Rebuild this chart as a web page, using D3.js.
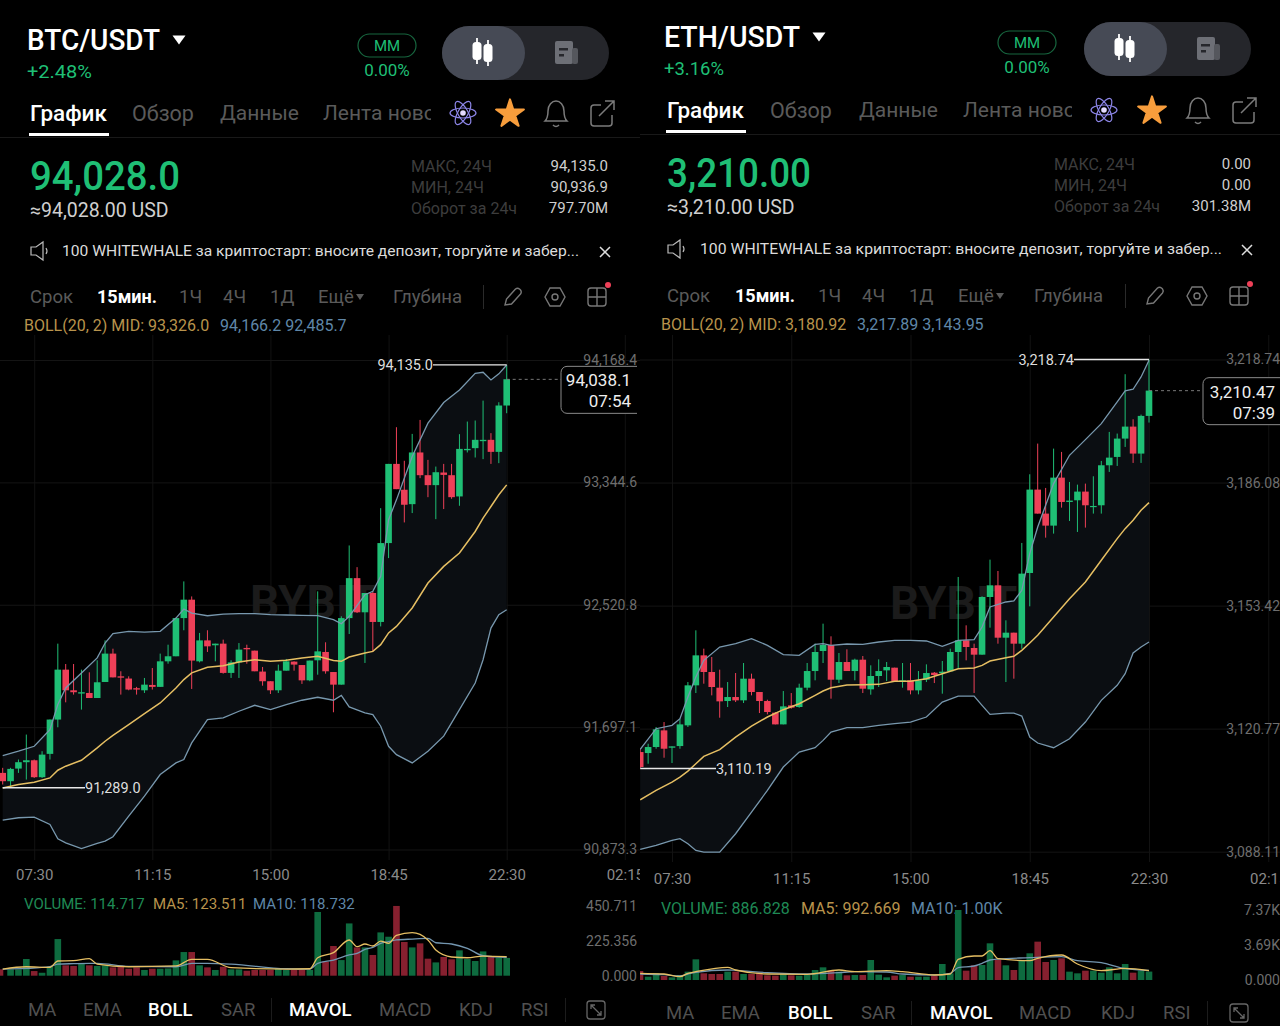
<!DOCTYPE html>
<html>
<head>
<meta charset="utf-8">
<script src="https://cdn.jsdelivr.net/npm/d3@7"></script>
<style>
	html, body { margin: 0; padding: 0; background: #000; }
	svg { display: block; }
	text { font-family: Roboto, "Noto Sans", sans-serif; }
</style>
</head>
<body>
<div id="chart"></div>
<script>
	// --- BTC/USDT, 15 min candles, 06:30 to 22:30
	var btcOpen = [91389,91333,91418,91461,91474,91360,91517,91748,92084,91945,91923,91927,91893,92001,92192,92039,92024,91959,91945,91981,91968,92140,92174,92431,92555,92140,92281,92248,92259,92062,92133,92230,92212,92071,92006,91945,92077,92138,92115,92012,92147,92203,92068,91983,92431,92700,92470,92600,92405,92936,93469,93295,93198,93546,93393,93326,93411,93393,93250,93561,93575,93622,93631,93550,93862];
	var btcClose = [91333,91416,91461,91474,91360,91512,91748,92084,91945,91932,91932,91893,91999,92192,92032,92030,91950,91950,91983,91968,92140,92174,92431,92555,92145,92281,92241,92259,92062,92133,92219,92221,92073,92006,91945,92077,92140,92118,92012,92145,92207,92073,91983,92431,92700,92470,92600,92405,92936,93469,93299,93194,93546,93393,93326,93413,93395,93245,93570,93570,93631,93631,93550,93862,94039];
	var btcHigh = [91423,91423,91479,91647,91479,91535,91748,92259,92122,92122,92084,92066,92147,92281,92225,92073,92039,91968,92028,92095,92192,92252,92431,92678,92577,92331,92349,92259,92286,92147,92263,92252,92212,92102,92006,92118,92156,92140,92115,92145,92611,92268,92068,92443,92920,92774,92600,92611,93171,93469,93716,93490,93671,93765,93496,93451,93469,93469,93669,93754,93761,93895,93676,93884,94135];
	var btcLow = [91311,91289,91389,91344,91355,91355,91479,91696,91864,91916,91815,91893,91893,92001,92032,91916,91945,91916,91927,91950,91968,92124,92174,92349,91954,92133,92203,92140,92057,92028,92028,92124,92073,91976,91920,91927,92077,92077,91988,92006,92050,92057,91797,91983,92324,92465,92129,92207,92375,92835,93299,93075,93138,93373,93245,93097,93165,93234,93187,93546,93512,93501,93469,93474,93810];

	var btcBollIdx = [0,2,4,6,7,8,10,12,13,14,16,18,20,22,23,24,26,28,30,32,34,36,38,40,42,43,44,46,47,48,49,50,52,54,56,58,60,61,62,63,64];
	var btcUpper = [91506,91535,91568,91680,91849,91961,92062,92163,92263,92326,92342,92337,92342,92431,92492,92465,92447,92458,92461,92461,92454,92452,92449,92447,92420,92393,92443,92588,92611,92712,93093,93227,93519,93743,93882,93967,94079,94086,94034,94075,94135];
	var btcMid = [91288,91311,91326,91355,91407,91434,91474,91557,91602,91642,91714,91788,91860,91961,92017,92062,92100,92111,92136,92151,92140,92147,92163,92174,92145,92140,92169,92196,92207,92252,92331,92375,92499,92667,92779,92869,93014,93104,93182,93261,93328];
	var btcLower = [91071,91087,91091,91042,90945,90918,90880,90914,90930,90959,91098,91232,91378,91456,91479,91591,91748,91759,91804,91844,91815,91849,91878,91898,91878,91911,91833,91793,91781,91703,91568,91512,91456,91535,91636,91815,91994,92151,92364,92454,92487];

	var btcVol = [41,41,41,108,30,19,58,237,67,63,80,67,63,67,54,63,45,54,37,45,45,47,99,153,153,67,54,37,58,41,41,32,37,37,37,45,37,37,37,37,412,91,192,101,338,183,183,134,280,252,451,218,183,209,110,86,121,106,164,108,95,157,123,116,115];
	var btcMaIdx = [0,3,6,7,9,11,12,16,22,24,26,29,36,39,40,42,44,45,46,47,48,49,50,52,54,55,57,59,61,64];
	var btcMa5 = [43,58,54,95,97,110,75,58,63,106,106,52,43,45,116,149,231,188,205,192,224,209,261,278,231,166,121,116,127,123.5];
	var btcMa10 = [43,47,58,75,78,80,80,60,58,80,80,75,45,43,80,101,134,144,170,183,209,220,231,237,241,213,205,177,129,118.7];

	var btcPriceTicks = [94168.4,93344.6,92520.8,91697.1,90873.3];
	var btcVolTicks = [0,225.356,450.711];
	var btcVolLabels = ["0.000","225.356","450.711"];

	// --- ETH/USDT
	var ethOpen = [3114.56,3114.29,3115.89,3120.31,3115.71,3116.15,3121.64,3132.26,3140.22,3135.80,3131.64,3128.10,3129.16,3128.28,3134.03,3130.49,3128.10,3125.00,3121.90,3126.95,3126.51,3131.64,3136.06,3141.37,3142.97,3133.76,3138.45,3136.06,3139.07,3131.20,3134.74,3136.24,3136.95,3133.23,3133.59,3130.93,3133.76,3135.62,3135.53,3135.98,3141.11,3144.21,3142.17,3140.40,3155.71,3158.81,3144.91,3146.24,3143.32,3162.08,3184.21,3177.84,3174.65,3187.39,3180.93,3181.38,3183.68,3179.61,3180.05,3190.67,3192.88,3197.75,3200.93,3193.77,3203.77];
	var ethClose = [3110.58,3115.89,3120.58,3115.44,3116.06,3121.90,3132.26,3140.22,3135.80,3131.82,3128.01,3129.16,3128.28,3134.03,3130.49,3128.10,3125.18,3121.90,3126.68,3126.33,3131.64,3136.06,3141.11,3142.97,3133.76,3138.45,3136.06,3139.07,3131.37,3134.74,3136.06,3137.13,3133.32,3133.59,3130.93,3133.59,3135.53,3135.00,3135.89,3141.11,3144.21,3142.44,3140.40,3155.71,3158.81,3144.91,3146.24,3143.32,3161.91,3184.21,3177.84,3174.65,3187.39,3180.93,3181.29,3183.68,3180.05,3179.87,3190.67,3192.70,3197.75,3200.93,3193.77,3203.77,3210.49];
	var ethHigh = [3115.44,3116.77,3121.20,3122.52,3116.06,3123.41,3133.14,3146.86,3141.99,3139.78,3136.42,3133.14,3135.53,3138.19,3135.36,3130.49,3128.45,3125.18,3130.75,3130.22,3132.70,3138.19,3143.32,3148.63,3145.27,3140.84,3141.82,3139.34,3140.05,3137.57,3139.16,3138.45,3136.95,3138.19,3138.19,3136.06,3137.83,3135.80,3138.72,3141.99,3161.02,3148.19,3143.32,3155.89,3165.62,3162.61,3149.52,3146.24,3170.05,3188.28,3196.42,3184.65,3195.09,3194.21,3186.24,3185.53,3185.80,3187.75,3191.82,3199.52,3199.08,3214.83,3202.88,3204.12,3218.74];
	var ethLow = [3110.19,3111.46,3115.44,3113.05,3111.64,3115.44,3121.20,3130.22,3132.70,3129.60,3123.67,3126.51,3127.83,3127.57,3129.60,3124.91,3124.56,3121.90,3121.90,3126.06,3126.33,3130.93,3133.59,3138.19,3128.72,3132.87,3136.06,3133.59,3130.22,3129.78,3131.82,3133.41,3133.14,3131.64,3129.87,3129.87,3133.14,3132.87,3130.05,3135.98,3136.68,3138.90,3130.22,3140.40,3147.57,3143.32,3133.14,3134.03,3141.99,3153.23,3177.84,3171.46,3172.53,3179.43,3175.89,3172.97,3174.12,3177.84,3177.84,3188.90,3190.49,3195.53,3191.29,3191.29,3202.00];

	var ethBollIdx = [0,2,4,5,6,7,8,10,12,14,16,18,20,22,23,24,26,28,30,32,34,36,38,40,42,43,44,46,47,48,49,50,52,54,56,58,60,61,62,63,64];
	var ethUpper = [3115.27,3120.75,3121.64,3123.41,3129.16,3134.47,3138.90,3142.44,3143.32,3144.65,3142.88,3140.40,3140.22,3143.14,3143.32,3142.88,3143.23,3143.14,3143.76,3144.21,3144.21,3144.03,3142.61,3144.21,3144.38,3147.75,3153.06,3154.38,3154.65,3157.48,3167.22,3174.29,3185.80,3193.32,3197.48,3201.73,3207.48,3210.40,3210.85,3214.12,3218.55];
	var ethMid = [3101.90,3104.38,3106.59,3107.92,3109.51,3111.46,3113.41,3115.18,3118.54,3121.46,3123.85,3125.80,3127.39,3129.60,3130.75,3131.64,3132.35,3132.43,3132.52,3133.32,3133.32,3134.03,3135.36,3136.68,3136.86,3137.57,3138.72,3139.60,3139.96,3141.55,3143.50,3145.53,3150.40,3155.27,3159.69,3165.45,3171.20,3173.85,3176.07,3178.72,3180.76];
	var ethLower = [3088.72,3089.78,3091.10,3091.55,3090.22,3088.45,3088.01,3088.01,3092.88,3098.63,3104.38,3110.58,3114.56,3115.71,3117.66,3119.87,3121.02,3121.02,3121.64,3122.08,3122.52,3123.85,3127.83,3129.42,3129.42,3126.95,3124.56,3124.91,3124.91,3124.12,3118.54,3116.95,3115.71,3118.10,3122.52,3128.28,3132.26,3135.36,3140.84,3142.44,3143.76];

	var ethVol = [948,351,702,421,281,527,878,2176,702,632,632,878,878,632,632,772,491,456,702,491,456,527,1053,1334,983,878,491,527,527,2106,562,281,456,527,351,351,351,421,1685,702,7371,983,1544,1580,3861,2106,1544,1053,2106,2808,4037,1895,2106,2282,878,702,983,983,772,1334,702,1685,772,983,887];
	var ethMaIdx = [0,3,5,6,7,11,12,16,21,25,27,31,33,37,39,40,42,43,44,45,49,50,53,55,58,61,64];
	var ethMa5 = [702,632,351,702,878,1334,1053,632,597,1053,878,983,878,527,632,2176,2527,2527,3089,2246,2036,2282,2633,1685,983,1229,992.7];
	var ethMa10 = [632,562,421,632,807,1053,1018,772,632,772,878,842,632,527,702,1299,1474,1755,2106,2211,2352,2387,2457,2036,1825,1193,1000];

	var ethPriceTicks = [3218.74,3186.08,3153.42,3120.77,3088.11];
	var ethVolTicks = [0,3690,7370];
	var ethVolLabels = ["0.000","3.69K","7.37K"];

	var timeIdx = [4,19,34,49,64,79];
	var timeLabels = ["07:30","11:15","15:00","18:45","22:30","02:15"];

	var green = "#1fbf75", red = "#ee4058";
	var greenDim = "#0e6b3f", redDim = "#86202f";
	var grey = "#5a5a5a", gold = "#b8934c", steel = "#5f87a8";

	var svg = d3.select("#chart").append("svg")
		.attr("width", 1280)
		.attr("height", 1026)
		.style("background", "#000");

	var defs = svg.append("defs");

	function addClip(id, x, y, w, h){
		defs.append("clipPath").attr("id", id)
			.append("rect").attr("x", x).attr("y", y).attr("width", w).attr("height", h);
	}

	function txt(g, x, y, s, size, fill, anchor, weight){
		return g.append("text")
			.attr("x", x)
			.attr("y", y)
			.attr("dy", "0.35em")
			.attr("font-size", size)
			.attr("fill", fill)
			.attr("text-anchor", anchor || "start")
			.attr("font-weight", weight || 400)
			.text(s);
	}

	function styleAxis(a, size, fill){
		a.select(".domain").remove();
		a.selectAll("line").remove();
		a.selectAll("text")
			.attr("font-size", size)
			.attr("fill", fill)
			.attr("font-family", "Roboto, sans-serif");
	}

	// small ui icons
	function iconCandles(g, cx, cy){
		[-6, 5].forEach(function(dx, i){
			var off = i ? 1 : -1;
			g.append("line").attr("x1", cx+dx).attr("x2", cx+dx).attr("y1", cy-13+off).attr("y2", cy+13+off)
				.attr("stroke", "#fff").attr("stroke-width", 1.8);
			g.append("rect").attr("x", cx+dx-4.5).attr("y", cy-9+off).attr("width", 9).attr("height", 18).attr("rx", 3.5).attr("fill", "#fff");
		});
	}
	function iconDoc(g, cx, cy){
		g.append("rect").attr("x", cx-11).attr("y", cy-11).attr("width", 18).attr("height", 23).attr("rx", 2).attr("fill", "#6d6f76");
		g.append("rect").attr("x", cx+6).attr("y", cy-4).attr("width", 6).attr("height", 16).attr("rx", 2).attr("fill", "#55575d");
		g.append("rect").attr("x", cx-7).attr("y", cy-4).attr("width", 9).attr("height", 2.5).attr("fill", "#26272c");
		g.append("rect").attr("x", cx-7).attr("y", cy+2).attr("width", 5).attr("height", 2.5).attr("fill", "#26272c");
	}
	function iconAtom(g, cx, cy){
		[0, 60, 120].forEach(function(a){
			g.append("ellipse").attr("cx", cx).attr("cy", cy).attr("rx", 13).attr("ry", 5)
				.attr("fill", "none").attr("stroke", "#8d86e8").attr("stroke-width", 1.2)
				.attr("transform", "rotate(" + a + "," + cx + "," + cy + ")");
		});
		g.append("circle").attr("cx", cx).attr("cy", cy).attr("r", 2.8).attr("fill", "#e4dcff");
	}
	function iconStar(g, cx, cy){
		g.append("path")
			.attr("d", d3.symbol().type(d3.symbolStar).size(240)())
			.attr("transform", "translate(" + cx + "," + (cy+1) + ")")
			.attr("fill", "#f79d3c").attr("stroke", "#f79d3c").attr("stroke-width", 2).attr("stroke-linejoin", "round");
	}
	function iconBell(g, cx, cy){
		g.append("path")
			.attr("d", "M" + (cx-11) + "," + (cy+8) + "c3,-3 3,-6 3,-10c0,-6 4,-10 8,-10c4,0 8,4 8,10c0,4 0,7 3,10z")
			.attr("fill", "none").attr("stroke", "#7b7b7b").attr("stroke-width", 1.5);
		g.append("path").attr("d", "M" + (cx-3) + "," + (cy+12) + "q3,3 6,0")
			.attr("fill", "none").attr("stroke", "#7b7b7b").attr("stroke-width", 1.5);
	}
	function iconShare(g, cx, cy){
		g.append("path")
			.attr("d", "M" + (cx-1) + "," + (cy-8) + "h-7q-3,0 -3,3v15q0,3 3,3h15q3,0 3,-3v-8")
			.attr("fill", "none").attr("stroke", "#7b7b7b").attr("stroke-width", 1.5);
		g.append("path").attr("d", "M" + (cx-3) + "," + (cy+3) + "L" + (cx+12) + "," + (cy-12) + "M" + (cx+3) + "," + (cy-12) + "h9v9")
			.attr("fill", "none").attr("stroke", "#7b7b7b").attr("stroke-width", 1.5);
	}
	function iconSpeaker(g, cx, cy){
		g.append("path")
			.attr("d", "M" + (cx-8) + "," + (cy-4) + "h5l7,-5v18l-7,-5h-5z")
			.attr("fill", "none").attr("stroke", "#bbb").attr("stroke-width", 1.2);
		g.append("path").attr("d", "M" + (cx+7) + "," + (cy-3) + "q2,3 0,6")
			.attr("fill", "none").attr("stroke", "#bbb").attr("stroke-width", 1.2);
	}
	function iconClose(g, cx, cy){
		g.append("path").attr("d", "M" + (cx-5) + "," + (cy-5) + "l10,10M" + (cx+5) + "," + (cy-5) + "l-10,10")
			.attr("stroke", "#ddd").attr("stroke-width", 1.5);
	}
	function iconPencil(g, cx, cy){
		g.append("path")
			.attr("d", "M" + (cx-8) + "," + (cy+8) + "l1.5,-6l9,-10q2,-1.5 4,0l1,1q1.5,2 0,4l-9,10z")
			.attr("fill", "none").attr("stroke", "#777").attr("stroke-width", 1.4);
	}
	function iconHex(g, cx, cy){
		g.append("path")
			.attr("d", "M" + (cx-10) + "," + cy + "l5,-9h10l5,9l-5,9h-10z")
			.attr("fill", "none").attr("stroke", "#777").attr("stroke-width", 1.4);
		g.append("circle").attr("cx", cx).attr("cy", cy).attr("r", 3).attr("fill", "none").attr("stroke", "#777").attr("stroke-width", 1.4);
	}
	function iconGrid(g, cx, cy){
		g.append("rect").attr("x", cx-9).attr("y", cy-9).attr("width", 18).attr("height", 18).attr("rx", 3)
			.attr("fill", "none").attr("stroke", "#777").attr("stroke-width", 1.4);
		g.append("path").attr("d", "M" + cx + "," + (cy-9) + "v18M" + (cx-9) + "," + cy + "h18")
			.attr("stroke", "#777").attr("stroke-width", 1.4);
		g.append("circle").attr("cx", cx+11).attr("cy", cy-12).attr("r", 3).attr("fill", red);
	}
	function iconExpand(g, cx, cy){
		g.append("rect").attr("x", cx-9).attr("y", cy-9).attr("width", 18).attr("height", 18).attr("rx", 3)
			.attr("fill", "none").attr("stroke", "#666").attr("stroke-width", 1.3);
		g.append("path").attr("d", "M" + (cx-5) + "," + (cy-1) + "v-4h4M" + (cx-5) + "," + (cy-5) + "l10,10M" + (cx+1) + "," + (cy+5) + "h4v-4")
			.attr("fill", "none").attr("stroke", "#666").attr("stroke-width", 1.3);
	}
	function tri(g, cx, cy, w, h, fill){
		g.append("path").attr("d", "M" + (cx-w/2) + "," + (cy-h/2) + "h" + w + "l" + (-w/2) + "," + h + "z").attr("fill", fill);
	}

	// header + toolbar of one screenshot
	function drawHeader(p){
		var g = svg.append("g");
		txt(g, p.titleX, p.titleY, p.title, 29, "#fff", "start", 500).attr("textLength", p.titleW).attr("lengthAdjust", "spacingAndGlyphs");
		tri(g, p.titleX + p.titleW + 19, p.titleY, 13, 9, "#fff");
		txt(g, p.titleX, p.titleY + 31, p.change, 19, green).attr("textLength", p.changeW).attr("lengthAdjust", "spacingAndGlyphs");

		g.append("rect").attr("x", p.mmX).attr("y", p.titleY - 6).attr("width", 58).attr("height", 23).attr("rx", 11.5)
			.attr("fill", "none").attr("stroke", "#17663f").attr("stroke-width", 1.2);
		txt(g, p.mmX + 29, p.titleY + 6, "MM", 15, green, "middle");
		txt(g, p.mmX + 29, p.titleY + 30, "0.00%", 17, green, "middle");

		g.append("rect").attr("x", p.togX).attr("y", p.togY).attr("width", 167).attr("height", 54).attr("rx", 27).attr("fill", "#25262b");
		g.append("rect").attr("x", p.togX).attr("y", p.togY).attr("width", 83).attr("height", 54).attr("rx", 27).attr("fill", "#464a55");
		iconCandles(g, p.togX + 41, p.togY + 26);
		iconDoc(g, p.togX + 124, p.togY + 26);

		// tabs
		addClip("tab" + p.id, p.x0, p.tabY - 20, p.tabClip - p.x0, 40);
		txt(g, p.tabX[0], p.tabY, "График", 22.5, "#fff", "start", 500);
		txt(g, p.tabX[1], p.tabY, "Обзор", 21.5, grey);
		txt(g, p.tabX[2], p.tabY, "Данные", 21, grey);
		txt(g, p.tabX[3], p.tabY, "Лента новостей", 21, grey).attr("clip-path", "url(#tab" + p.id + ")");
		g.append("rect").attr("x", p.tabX[0] - 1).attr("y", p.tabY + 20).attr("width", 80).attr("height", 3).attr("fill", "#fff");
		g.append("rect").attr("x", p.x0).attr("y", p.tabY + 24).attr("width", 640).attr("height", 1).attr("fill", "#191919");
		iconAtom(g, p.iconX[0], p.tabY);
		iconStar(g, p.iconX[1], p.tabY);
		iconBell(g, p.iconX[2], p.tabY);
		iconShare(g, p.iconX[3], p.tabY);

		// price block
		txt(g, p.tabX[0], p.priceY, p.price, 40, green, "start", 500).attr("textLength", p.priceW).attr("lengthAdjust", "spacingAndGlyphs");
		txt(g, p.tabX[0], p.priceY + 34, p.usd, 19.5, "#d0d0d0");
		p.stats.forEach(function(s, i){
			txt(g, p.statX, p.statY + i * 21, s[0], 16, "#3d3d3d");
			txt(g, p.statR, p.statY + i * 21, s[1], 15, "#cfcfcf", "end");
		});

		// announcement
		iconSpeaker(g, p.tabX[0] + 9, p.annY);
		txt(g, p.annX, p.annY, "100 WHITEWHALE за криптостарт: вносите депозит, торгуйте и забер...", 15.5, "#dcdcdc")
			.attr("textLength", p.annW).attr("lengthAdjust", "spacingAndGlyphs");
		iconClose(g, p.iconX[3] + 3, p.annY + 1);

		// period bar
		var bar = ["Срок","15мин.","1Ч","4Ч","1Д","Ещё","Глубина"];
		bar.forEach(function(b, i){
			txt(g, p.barX[i], p.barY, b, i == 1 ? 18 : 18.5, i == 1 ? "#fff" : grey, "start", i == 1 ? 700 : 400);
		});
		tri(g, p.barX[5] + 42, p.barY, 8, 6, grey);
		g.append("rect").attr("x", p.barSep).attr("y", p.barY - 12).attr("width", 1).attr("height", 24).attr("fill", "#2a2a2a");
		iconPencil(g, p.barSep + 30, p.barY);
		iconHex(g, p.barSep + 72, p.barY);
		iconGrid(g, p.barSep + 114, p.barY);

		// boll legend
		txt(g, p.legX, p.legY, p.bollLabel, 16, gold);
		txt(g, p.legX2, p.legY, p.bollBands, 16, steel);

		// bottom indicator tabs
		var tabs = ["MA","EMA","BOLL","SAR","MAVOL","MACD","KDJ","RSI"];
		tabs.forEach(function(t, i){
			var on = (t == "BOLL" || t == "MAVOL");
			txt(g, p.btmX[i], p.btmY, t, 18.5, on ? "#fff" : "#505050", "start", on ? 500 : 400);
		});
		g.append("rect").attr("x", p.btmSep[0]).attr("y", p.btmY - 12).attr("width", 1).attr("height", 24).attr("fill", "#1c1c1c");
		g.append("rect").attr("x", p.btmSep[1]).attr("y", p.btmY - 12).attr("width", 1).attr("height", 24).attr("fill", "#1c1c1c");
		iconExpand(g, p.btmIcon, p.btmY);
	}

	// candles + bollinger + volume of one screenshot
	function drawChart(p, d){
		var n = d.open.length;
		addClip("plot" + p.id, p.x0, 330, 640, 560);

		var x = d3.scaleLinear().domain([0, n - 1]).range(p.xRange);
		var y = d3.scaleLinear().domain([d.ticks[0], d.ticks[4]]).range(p.yRange);
		var yVol = d3.scaleLinear().domain([0, d.volTicks[2]]).range(p.volRange);

		var g = svg.append("g");
		var plot = g.append("g").attr("clip-path", "url(#plot" + p.id + ")");

		// grid
		plot.append("g")
			.attr("transform", "translate(0," + p.gridBottom + ")")
			.call(d3.axisBottom(x).tickValues(timeIdx).tickSize(-(p.gridBottom - 335)).tickFormat(""))
			.call(function(a){
				a.select(".domain").remove();
				a.selectAll("line").attr("stroke", "#121212");
			});
		plot.append("g")
			.attr("transform", "translate(" + (p.x0 + 640) + ",0)")
			.call(d3.axisLeft(y).tickValues(d.ticks).tickSize(640).tickFormat(""))
			.call(function(a){
				a.select(".domain").remove();
				a.selectAll("line").attr("stroke", "#141414");
			});

		// watermark
		txt(plot, p.markX, p.markY, "BYBIT", 46, "#1b1b1b", "start", 700);

		// band
		var band = d3.area()
			.x(function(i){ return x(d.bollIdx[i]); })
			.y0(function(i){ return y(d.lower[i]); })
			.y1(function(i){ return y(d.upper[i]); });
		plot.append("path")
			.attr("d", band(d3.range(d.bollIdx.length)))
			.attr("fill", "#0b0e12");

		// candles
		var up = function(i){ return d.close[i] >= d.open[i]; };
		var candles = plot.append("g").selectAll("g").data(d3.range(n)).enter().append("g");
		candles.append("line")
			.attr("x1", function(i){ return x(i); })
			.attr("x2", function(i){ return x(i); })
			.attr("y1", function(i){ return y(d.high[i]); })
			.attr("y2", function(i){ return y(d.low[i]); })
			.attr("stroke", function(i){ return up(i) ? green : red; })
			.attr("stroke-width", 1);
		candles.append("rect")
			.attr("x", function(i){ return x(i) - 3.3; })
			.attr("width", 6.6)
			.attr("y", function(i){ return y(Math.max(d.open[i], d.close[i])); })
			.attr("height", function(i){ return Math.max(1.2, Math.abs(y(d.open[i]) - y(d.close[i]))); })
			.attr("fill", function(i){ return up(i) ? green : red; });

		// boll lines
		function bollLine(vals, color, w){
			var line = d3.line()
				.x(function(i){ return x(d.bollIdx[i]); })
				.y(function(i){ return y(vals[i]); });
			plot.append("path")
				.attr("d", line(d3.range(vals.length)))
				.attr("fill", "none")
				.attr("stroke", color)
				.attr("stroke-width", w);
		}
		bollLine(d.upper, "#7898ae", 1.3);
		bollLine(d.lower, "#7898ae", 1.3);
		bollLine(d.mid, "#e6bf63", 1.5);

		// high / low markers
		plot.append("line")
			.attr("x1", p.hiLabelX).attr("x2", x(n - 1))
			.attr("y1", y(d.hi)).attr("y2", y(d.hi))
			.attr("stroke", "#e8e8e8").attr("stroke-width", 1.3);
		txt(plot, p.hiLabelX, y(d.hi), d.hiLabel, 14.5, "#dedede", "end");
		plot.append("line")
			.attr("x1", x(p.loIdx)).attr("x2", p.loLabelX)
			.attr("y1", y(d.lo)).attr("y2", y(d.lo))
			.attr("stroke", "#e8e8e8").attr("stroke-width", 1.3);
		txt(plot, p.loLabelX, y(d.lo), d.loLabel, 14.5, "#dedede");

		// price axis labels
		g.append("g")
			.attr("transform", "translate(" + p.labelR + ",0)")
			.call(d3.axisLeft(y).tickValues(d.ticks).tickSize(0).tickPadding(0).tickFormat(function(v){ return d3.format(",." + d.dec + "f")(v); }))
			.call(function(a){ styleAxis(a, 14, "#6e6e6e"); });

		// time axis
		plot.append("g")
			.attr("transform", "translate(0," + (p.timeY - 5) + ")")
			.call(d3.axisBottom(x).tickValues(timeIdx).tickSize(0).tickPadding(0).tickFormat(function(v, i){ return timeLabels[i]; }))
			.call(function(a){ styleAxis(a, 15, "#8a8a8a"); });

		// last price tag
		plot.append("line")
			.attr("x1", x(n - 1)).attr("x2", p.tagX)
			.attr("y1", y(d.last)).attr("y2", y(d.last))
			.attr("stroke", "#777").attr("stroke-dasharray", "3,3");
		g.append("rect").attr("x", p.tagX).attr("y", y(d.last) - 13).attr("width", 90).attr("height", 47).attr("rx", 6)
			.attr("fill", "#000").attr("stroke", "#8a8a8a").attr("clip-path", "url(#tag" + p.id + ")");
		addClip("tag" + p.id, p.x0, 330, p.tagClip - p.x0, 120);
		txt(g, p.tagR, y(d.last) + 1, d.lastLabel, 17, "#eee", "end");
		txt(g, p.tagR, y(d.last) + 22, d.countdown, 17, "#eee", "end");

		// volume legend
		txt(g, p.legX, p.volLegY, d.volLabel, p.volLegSize, "#1f8a55");
		txt(g, p.volMa5X, p.volLegY, d.ma5Label, p.volLegSize, gold);
		txt(g, p.volMa10X, p.volLegY, d.ma10Label, p.volLegSize, steel);

		// volume bars
		g.append("g").selectAll("rect").data(d3.range(n)).enter().append("rect")
			.attr("x", function(i){ return Math.max(p.x0, x(i) - 3.3); })
			.attr("width", function(i){ return x(i) - 3.3 < p.x0 ? 3.3 : 6.6; })
			.attr("y", function(i){ return yVol(d.vol[i]); })
			.attr("height", function(i){ return yVol(0) - yVol(d.vol[i]); })
			.attr("fill", function(i){ return up(i) ? greenDim : redDim; });

		function volLine(vals, color){
			var line = d3.line()
				.curve(d3.curveMonotoneX)
				.x(function(i){ return x(d.maIdx[i]); })
				.y(function(i){ return yVol(vals[i]); });
			g.append("path")
				.attr("d", line(d3.range(vals.length)))
				.attr("fill", "none")
				.attr("stroke", color)
				.attr("stroke-width", 1.3);
		}
		volLine(d.ma10, "#7396b0");
		volLine(d.ma5, "#e6bf63");

		// volume axis labels
		g.append("g")
			.attr("transform", "translate(" + p.labelR + ",0)")
			.call(d3.axisLeft(yVol).tickValues(d.volTicks).tickSize(0).tickPadding(0).tickFormat(function(v, i){ return d.volLabels[i]; }))
			.call(function(a){ styleAxis(a, 14, "#6e6e6e"); });
	}

	var leftPanel = {
		id: "L", x0: 0,
		title: "BTC/USDT", titleX: 27, titleY: 40, titleW: 133, change: "+2.48%", changeW: 65,
		mmX: 358, togX: 442, togY: 26,
		tabY: 113, tabX: [30,132,220,323], tabClip: 431, iconX: [463,510,556,602],
		priceY: 176, priceW: 150, price: "94,028.0", usd: "≈94,028.00 USD",
		statX: 411, statR: 608, statY: 166,
		stats: [["МАКС, 24Ч","94,135.0"],["МИН, 24Ч","90,936.9"],["Оборот за 24ч","797.70M"]],
		annY: 251, annX: 62, annW: 517,
		barY: 297, barX: [30,97,179,223,270,318,393], barSep: 483,
		legX: 24, legY: 325, legX2: 220,
		bollLabel: "BOLL(20, 2) MID: 93,326.0", bollBands: "94,166.2 92,485.7",
		btmY: 1010, btmX: [28,83,148,221,289,379,459,521], btmSep: [271,565], btmIcon: 596,
		xRange: [2.7,506.7], yRange: [360,849.5], volRange: [975.7,906],
		gridBottom: 860, markX: 250, markY: 602,
		hiLabelX: 433, loLabelX: 85, loIdx: 0,
		labelR: 637, timeY: 874, tagX: 561, tagR: 631, tagClip: 637,
		volLegY: 904, volMa5X: 153, volMa10X: 253, volLegSize: 15
	};

	var rightPanel = {
		id: "R", x0: 640,
		title: "ETH/USDT", titleX: 664, titleY: 37, titleW: 136, change: "+3.16%", changeW: 60,
		mmX: 998, togX: 1084, togY: 22,
		tabY: 110, tabX: [667,770,859,963], tabClip: 1072, iconX: [1104,1152,1198,1244],
		priceY: 173, priceW: 144, price: "3,210.00", usd: "≈3,210.00 USD",
		statX: 1054, statR: 1251, statY: 164,
		stats: [["МАКС, 24Ч","0.00"],["МИН, 24Ч","0.00"],["Оборот за 24ч","301.38M"]],
		annY: 249, annX: 700, annW: 522,
		barY: 296, barX: [667,735,818,862,909,958,1034], barSep: 1125,
		legX: 661, legY: 324, legX2: 857,
		bollLabel: "BOLL(20, 2) MID: 3,180.92", bollBands: "3,217.89 3,143.95",
		btmY: 1013, btmX: [666,721,788,861,930,1019,1101,1163], btmSep: [911,1207], btmIcon: 1239,
		xRange: [640.2,1149], yRange: [359.5,851.7], volRange: [980,910],
		gridBottom: 862, markX: 890, markY: 603,
		hiLabelX: 1074, loLabelX: 716, loIdx: 0,
		labelR: 1280, timeY: 878, tagX: 1203, tagR: 1275, tagClip: 1280,
		volLegY: 908, volMa5X: 801, volMa10X: 911, volLegSize: 16
	};

	drawHeader(leftPanel);
	drawHeader(rightPanel);

	drawChart(leftPanel, {
		open: btcOpen, close: btcClose, high: btcHigh, low: btcLow,
		bollIdx: btcBollIdx, upper: btcUpper, mid: btcMid, lower: btcLower,
		vol: btcVol, maIdx: btcMaIdx, ma5: btcMa5, ma10: btcMa10,
		ticks: btcPriceTicks, dec: 1, volTicks: btcVolTicks, volLabels: btcVolLabels,
		hi: 94135, hiLabel: "94,135.0", lo: 91289, loLabel: "91,289.0",
		last: 94038.1, lastLabel: "94,038.1", countdown: "07:54",
		volLabel: "VOLUME: 114.717", ma5Label: "MA5: 123.511", ma10Label: "MA10: 118.732"
	});

	drawChart(rightPanel, {
		open: ethOpen, close: ethClose, high: ethHigh, low: ethLow,
		bollIdx: ethBollIdx, upper: ethUpper, mid: ethMid, lower: ethLower,
		vol: ethVol, maIdx: ethMaIdx, ma5: ethMa5, ma10: ethMa10,
		ticks: ethPriceTicks, dec: 2, volTicks: ethVolTicks, volLabels: ethVolLabels,
		hi: 3218.74, hiLabel: "3,218.74", lo: 3110.19, loLabel: "3,110.19",
		last: 3210.47, lastLabel: "3,210.47", countdown: "07:39",
		volLabel: "VOLUME: 886.828", ma5Label: "MA5: 992.669", ma10Label: "MA10: 1.00K"
	});
</script>
</body>
</html>
